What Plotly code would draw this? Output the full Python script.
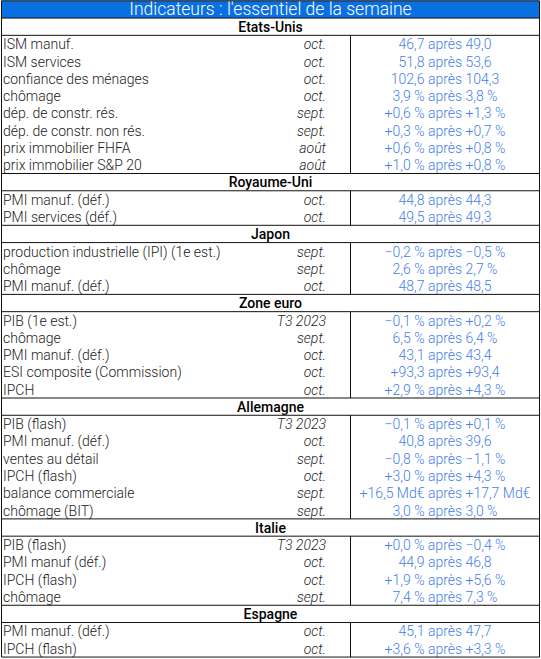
import plotly.graph_objects as go

title = "Indicateurs : l'essentiel de la semaine"

sections = ["Etats-Unis", "Royaume-Uni", "Japon", "Zone euro", "Allemagne", "Italie", "Espagne"]

us_labels = ["ISM manuf.", "ISM services", "confiance des ménages", "chômage",
             "dép. de constr. rés.", "dép. de constr. non rés.", "prix immobilier FHFA",
             "prix immobilier S&P 20"]
us_periods = ["oct.", "oct.", "oct.", "oct.", "sept.", "sept.", "août", "août"]
us_values = ["46,7 après 49,0", "51,8 après 53,6", "102,6 après 104,3", "3,9 % après 3,8 %",
             "+0,6 % après +1,3 %", "+0,3 % après +0,7 %", "+0,6 % après +0,8 %",
             "+1,0 % après +0,8 %"]

uk_labels = ["PMI manuf. (déf.)", "PMI services (déf.)"]
uk_periods = ["oct.", "oct."]
uk_values = ["44,8 après 44,3", "49,5 après 49,3"]

jp_labels = ["production industrielle (IPI) (1e est.)", "chômage", "PMI manuf. (déf.)"]
jp_periods = ["sept.", "sept.", "oct."]
jp_values = ["−0,2 % après −0,5 %", "2,6 % après 2,7 %", "48,7 après 48,5"]

ez_labels = ["PIB (1e est.)", "chômage", "PMI manuf. (déf.)", "ESI composite (Commission)", "IPCH"]
ez_periods = ["T3 2023", "sept.", "oct.", "oct.", "oct."]
ez_values = ["−0,1 % après +0,2 %", "6,5 % après 6,4 %", "43,1 après 43,4",
             "+93,3 après +93,4", "+2,9 % après +4,3 %"]

de_labels = ["PIB (flash)", "PMI manuf. (déf.)", "ventes au détail", "IPCH (flash)",
             "balance commerciale", "chômage (BIT)"]
de_periods = ["T3 2023", "oct.", "sept.", "oct.", "sept.", "sept."]
de_values = ["−0,1 % après +0,1 %", "40,8 après 39,6", "−0,8 % après −1,1 %",
             "+3,0 % après +4,3 %", "+16,5 Md€ après +17,7 Md€", "3,0 % après 3,0 %"]

it_labels = ["PIB (flash)", "PMI manuf (déf.)", "IPCH (flash)", "chômage"]
it_periods = ["T3 2023", "oct.", "oct.", "sept."]
it_values = ["+0,0 % après −0,4 %", "44,9 après 46,8", "+1,9 % après +5,6 %", "7,4 % après 7,3 %"]

es_labels = ["PMI manuf. (déf.)", "IPCH (flash)"]
es_periods = ["oct.", "oct."]
es_values = ["45,1 après 47,7", "+3,6 % après +3,3 %"]

groups = [
    (us_labels, us_periods, us_values),
    (uk_labels, uk_periods, uk_values),
    (jp_labels, jp_periods, jp_values),
    (ez_labels, ez_periods, ez_values),
    (de_labels, de_periods, de_values),
    (it_labels, it_periods, it_values),
    (es_labels, es_periods, es_values),
]

# geometry (pixel space)
W, H = 541, 659
TOP = 0.8
ROW_H = 17.27
TXT_DY = 1.8
X_LEFT, X_RIGHT, X_SEP = 1.5, 539.5, 350.5
X_LABEL, X_PERIOD = 3, 326
X_VALUE = (X_SEP + X_RIGHT) / 2

BLUE = "#0a6fe0"
VAL_COLOR = "#4580ea"
TXT_COLOR = "#1c1c1c"
LINE = "#111111"

shapes = []
shapes.append(dict(type="rect", x0=X_LEFT, x1=X_RIGHT, y0=TOP, y1=TOP + ROW_H,
                   fillcolor=BLUE, line=dict(width=0), layer="below"))
title_y = TOP + ROW_H / 2 + 1.2
row = 1

hdr_x, hdr_y, hdr_t = [], [], []
lab_x, lab_y, lab_t = [], [], []
per_x, per_y, per_t = [], [], []
val_x, val_y, val_t = [], [], []

hlines = [TOP, TOP + ROW_H]
for sec, (labs, pers, vals) in zip(sections, groups):
    y0 = TOP + row * ROW_H
    hdr_x.append((X_LEFT + X_RIGHT) / 2)
    hdr_y.append(y0 + ROW_H / 2 + TXT_DY)
    hdr_t.append(sec)
    row += 1
    y_data0 = TOP + row * ROW_H
    hlines.append(y_data0)
    for lab, per, val in zip(labs, pers, vals):
        yc = TOP + row * ROW_H + ROW_H / 2 + TXT_DY
        lab_x.append(X_LABEL); lab_y.append(yc); lab_t.append(lab)
        per_x.append(X_PERIOD); per_y.append(yc); per_t.append(per)
        val_x.append(X_VALUE); val_y.append(yc); val_t.append(val)
        row += 1
    y_data1 = TOP + row * ROW_H
    hlines.append(y_data1)
    shapes.append(dict(type="line", x0=X_SEP, x1=X_SEP, y0=y_data0, y1=y_data1,
                       line=dict(color=LINE, width=1)))

for yl in sorted(set(round(v, 3) for v in hlines)):
    shapes.append(dict(type="line", x0=X_LEFT, x1=X_RIGHT, y0=yl, y1=yl,
                       line=dict(color=LINE, width=1)))
bottom = TOP + row * ROW_H
shapes.append(dict(type="line", x0=X_LEFT, x1=X_LEFT, y0=TOP, y1=bottom, line=dict(color=LINE, width=1)))
shapes.append(dict(type="line", x0=X_RIGHT, x1=X_RIGHT, y0=TOP, y1=bottom, line=dict(color=LINE, width=1)))

fig = go.Figure()
fig.add_trace(go.Scatter(x=[(X_LEFT + X_RIGHT) / 2], y=[title_y], text=[title], mode="text",
                         textposition="middle center", cliponaxis=False,
                         textfont=dict(family="Roboto", size=17.5, color="white", weight=300),
                         hoverinfo="skip"))
fig.add_trace(go.Scatter(x=hdr_x, y=hdr_y, text=hdr_t, mode="text", textposition="middle center",
                         cliponaxis=False,
                         textfont=dict(family="Roboto", size=14, color="#000000", weight=500),
                         hoverinfo="skip"))
fig.add_trace(go.Scatter(x=lab_x, y=lab_y, text=lab_t, mode="text", textposition="middle right",
                         cliponaxis=False,
                         textfont=dict(family="Roboto", size=14, color=TXT_COLOR, weight=300),
                         hoverinfo="skip"))
fig.add_trace(go.Scatter(x=per_x, y=per_y, text=per_t, mode="text", textposition="middle left",
                         cliponaxis=False,
                         textfont=dict(family="Roboto", size=14, color=TXT_COLOR, weight=300,
                                       style="italic"),
                         hoverinfo="skip"))
fig.add_trace(go.Scatter(x=val_x, y=val_y, text=val_t, mode="text", textposition="middle center",
                         cliponaxis=False,
                         textfont=dict(family="Roboto", size=14, color=VAL_COLOR, weight=300),
                         hoverinfo="skip"))

fig.update_layout(
    width=W, height=H, margin=dict(l=0, r=0, t=0, b=0),
    paper_bgcolor="white", plot_bgcolor="white", showlegend=False,
    xaxis=dict(range=[0, W], visible=False, fixedrange=True),
    yaxis=dict(range=[H, 0], visible=False, fixedrange=True),
    shapes=shapes,
)
fig.write_html("out.html", config={"displayModeBar": False},
               post_script="document.body.style.margin='0';document.body.style.overflow='hidden';")
